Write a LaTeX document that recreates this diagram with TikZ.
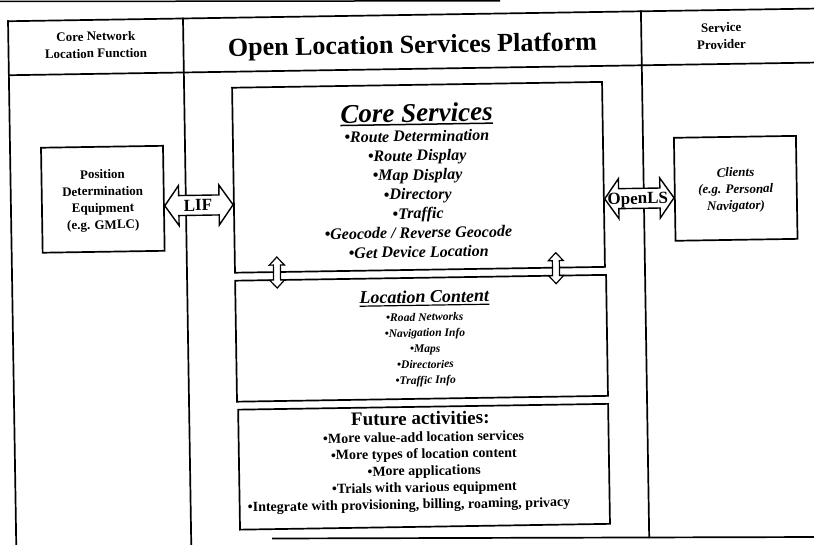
\documentclass[tikz,border=0pt]{standalone}
\usepackage{fontspec}
\setmainfont{Liberation Serif}
\usetikzlibrary{calc}
\begin{document}
\begin{tikzpicture}[x=1pt, y=-1pt,
  rule/.style={line width=1.7pt, line cap=rect},
  panel/.style={draw, rectangle, line width=1.7pt, inner sep=0pt},
  hfat/.style={line width=1.4pt, fill=white, line join=miter,
    to path={let \p1=(\tikztostart), \p2=(\tikztotarget) in
      (\x1,\y1) -- (\x1+14pt,\y1+20pt) -- (\x1+14pt,\y1+10pt)
      -- (\x2-14pt,\y1+10pt) -- (\x2-14pt,\y1+20pt) -- (\x2,\y1)
      -- (\x2-14pt,\y1-20pt) -- (\x2-14pt,\y1-10pt)
      -- (\x1+14pt,\y1-10pt) -- (\x1+14pt,\y1-20pt) -- cycle}},
  vfat/.style={line width=1.2pt, fill=white, line join=miter,
    to path={let \p1=(\tikztostart), \p2=(\tikztotarget) in
      (\x1,\y1) -- (\x1+7.5pt,\y1-8pt) -- (\x1+3.5pt,\y1-8pt)
      -- (\x1+3.5pt,\y2+8pt) -- (\x1+7.5pt,\y2+8pt) -- (\x1,\y2)
      -- (\x1-7.5pt,\y2+8pt) -- (\x1-3.5pt,\y2+8pt)
      -- (\x1-3.5pt,\y1-8pt) -- (\x1-7.5pt,\y1-8pt) -- cycle}},
  txt/.style={inner sep=0pt, anchor=base},
  hdr/.style={inner sep=0pt, align=center, font={\fontsize{13}{17}\selectfont\bfseries}},
  bigtitle/.style={inner sep=0pt, font={\fontsize{26}{30}\selectfont\bfseries}},
  arrowtxt/.style={txt, font={\fontsize{17}{20}\selectfont\bfseries}},
  postxt/.style={txt, font={\fontsize{13}{16}\selectfont\bfseries}},
  clitxt/.style={txt, font={\fontsize{13}{16}\selectfont\bfseries\itshape}},
  cshead/.style={txt, font={\fontsize{27}{30}\selectfont\bfseries\itshape}},
  csitem/.style={txt, font={\fontsize{16}{19}\selectfont\bfseries\itshape}},
  lchead/.style={txt, font={\fontsize{18}{21}\selectfont\bfseries\itshape}},
  lcitem/.style={txt, font={\fontsize{11.6}{14}\selectfont\bfseries\itshape}},
  fahead/.style={txt, font={\fontsize{19}{22}\selectfont\bfseries}},
  faitem/.style={txt, font={\fontsize{14}{16}\selectfont\bfseries}},
]
\useasboundingbox (0,0) rectangle (814,545);
\clip (0,0) rectangle (814,545);
\fill[white] (0,0) rectangle (814,545);
% edge of the sheet above the table
\draw[line width=1.5pt] (0,1.5) -- (500,0.8);
% bottom rule of the table
\draw[line width=1.7pt] (272,538.5) -- (820,537);

\begin{scope}[rotate around={0.9:(407,272)}, transform shape]
  % table grid
  \draw[rule] (12,15) -- (850,15);
  \draw[rule] (12,69) -- (850,69);
  \draw[rule] (12,15) -- (12,570);
  \draw[rule] (187,15) -- (187,570);
  \draw[rule] (645,15) -- (645,541);

  % column headings
  \node[hdr] (hleft) at (99.5,40) {Core Network\\Location Function};
  \node[bigtitle] (hmid) at (416,47) {Open Location Services Platform};
  \node[hdr] (hright) at (725,41) {Service\\Provider};

  % boxes
  \node[panel, minimum width=122, minimum height=105] (pos) at (104,194.5) {};
  \node[panel, minimum width=370, minimum height=185] (core) at (420,177.5) {};
  \node[panel, minimum width=371, minimum height=121] (loc) at (420.5,338.5) {};
  \node[panel, minimum width=370, minimum height=120] (fut) at (421,467) {};
  \node[panel, minimum width=122, minimum height=103] (cli) at (737,193.5) {};

  % interfaces
  \coordinate (lifaxis) at (200,202);
  \coordinate (olsaxis) at (640,202);
  \draw[hfat] (pos.east |- lifaxis) to (core.west |- lifaxis);
  \draw[hfat] (core.east |- olsaxis) to (cli.west |- olsaxis);
  \node[arrowtxt] (liftxt) at (199,207.6) {LIF};
  \node[arrowtxt] (olstxt) at (639,207.6) {OpenLS};

  % links between core services and content
  \coordinate (la) at (277,255);
  \coordinate (lb) at (277,286);
  \coordinate (ra) at (556,255);
  \coordinate (rb) at (556,286);
  \draw[vfat] (la) to (lb);
  \draw[vfat] (ra) to (rb);

  % position determination equipment
  \foreach \t [count=\i from 0] in {Position, Determination, Equipment, {(e.g. GMLC)}}
    \node[postxt] (pe\i) at (104,{174+16.8*\i}) {\t};

  % clients
  \foreach \t [count=\i from 0] in {Clients, {(e.g. Personal}, Navigator)}
    \node[clitxt] (cl\i) at (737,{182+16.5*\i}) {\t};

  % core services
  \node[cshead] (cstitle) at (419,122) {Core Services};
  \draw[line width=1.5pt] ($(cstitle.base west)+(0,2.5)$) -- ($(cstitle.base east)+(0,2.5)$);
  \foreach \t [count=\i from 0] in {Route Determination, Route Display, Map Display,
      Directory, Traffic, {Geocode / Reverse Geocode}, Get Device Location}
    \node[csitem] (cs\i) at (419,{141.8+19.3*\i}) {\textbullet\t};

  % location content
  \node[lchead] (lctitle) at (424,303) {Location Content};
  \draw[line width=1.2pt] ($(lctitle.base west)+(0,2.5)$) -- ($(lctitle.base east)+(0,2.5)$);
  \foreach \t [count=\i from 0] in {Road Networks, Navigation Info, Maps, Directories, Traffic Info}
    \node[lcitem] (lc\i) at (424,{321.3+15.75*\i}) {\textbullet\t};

  % future activities
  \node[fahead] (fatitle) at (418,425) {Future activities:};
  \foreach \t [count=\i from 0] in {More value-add location services, More types of location content,
      More applications, Trials with various equipment}
    \node[faitem] (fa\i) at (421,{442+16.8*\i}) {\textbullet\t};
  \node[faitem, anchor=base west] (fa4) at (244,509.2)
    {\textbullet Integrate with provisioning, billing, roaming, privacy};
\end{scope}
\end{tikzpicture}
\end{document}
